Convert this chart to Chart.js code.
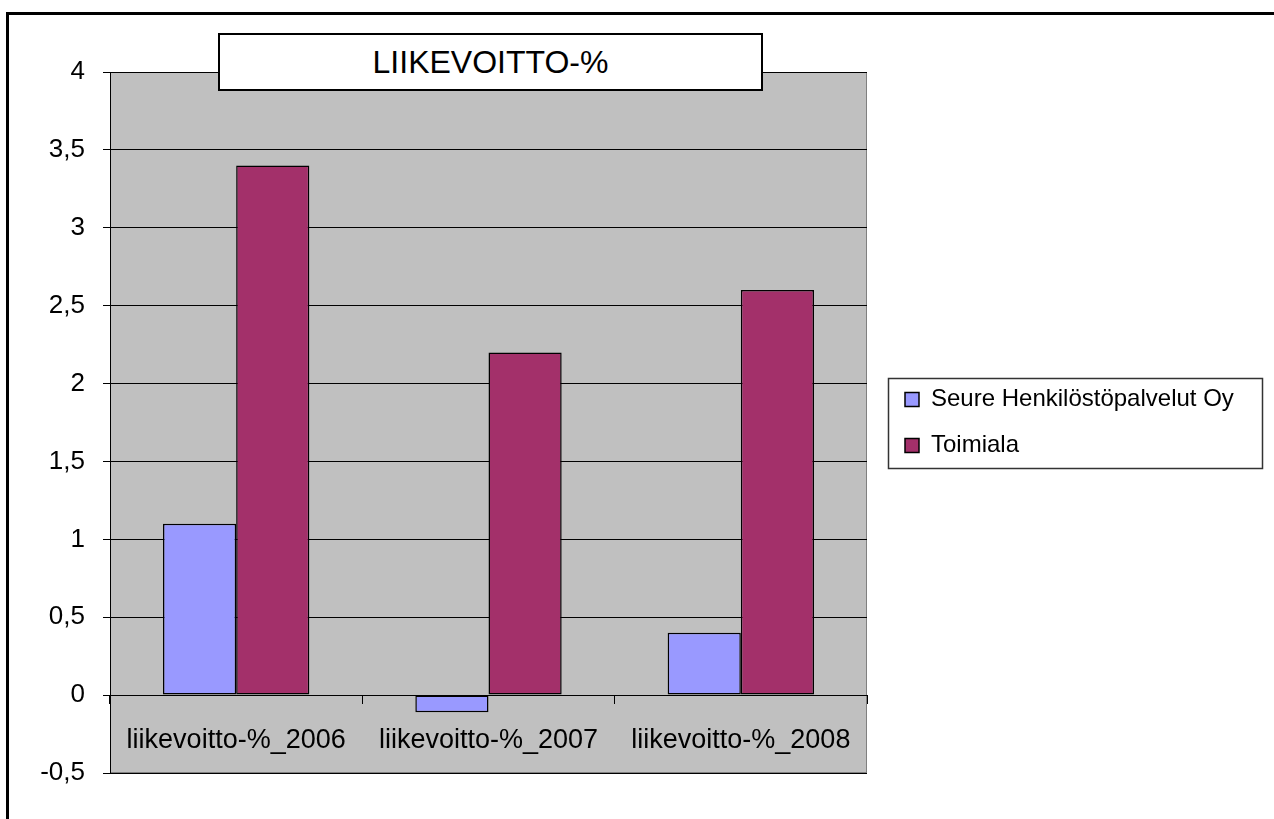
<!DOCTYPE html>
<html>
<head>
<meta charset="utf-8">
<script src="https://cdn.jsdelivr.net/npm/chart.js@4.4.1/dist/chart.umd.min.js"></script>
<style>
  html, body { margin: 0; padding: 0; background: #fff; }
  #wrap { position: relative; width: 1274px; height: 819px; overflow: hidden; }
  #c { position: absolute; left: 0; top: 0; }
  #title {
    position: absolute; left: 218px; top: 33px; width: 545px; height: 58px;
    box-sizing: border-box; border: 2px solid #000; background: #fff; color: #000;
    font: 32px 'Liberation Sans', Arial, sans-serif;
    display: flex; align-items: center; justify-content: center;
  }
</style>
</head>
<body>
<div id="wrap">
  <canvas id="c" width="1274" height="819"></canvas>
  <div id="title"></div>
</div>
<script>
// ---- data ----
const TITLE = 'LIIKEVOITTO-%';
const CATEGORIES = ['liikevoitto-%_2006', 'liikevoitto-%_2007', 'liikevoitto-%_2008'];
const SERIES_NAMES = ['Seure Henkilöstöpalvelut Oy', 'Toimiala'];
const SEURE_VALUES = [1.1, -0.11, 0.4];
const TOIMIALA_VALUES = [3.4, 2.2, 2.6];
const Y_TICK_LABELS = ['-0,5', '0', '0,5', '1', '1,5', '2', '2,5', '3', '3,5', '4'];

document.getElementById('title').textContent = TITLE;

const FONT = "'Liberation Sans', Arial, sans-serif";
const LEGEND_FONT_SIZE = 24;
const LEGEND_PAD = 22;
const LEGEND_BOX = 14;
const PLOT_RIGHT = 867;
const LEGEND_BOX_X = 905;

const framePlugin = {
  id: 'framePlugin',
  beforeDraw(chart) {
    const { ctx, chartArea: a } = chart;
    ctx.save();
    ctx.fillStyle = '#000';
    ctx.fillRect(6, 12, 1268, 3);
    ctx.fillRect(6, 12, 3, 807);
    ctx.fillStyle = '#C0C0C0';
    ctx.fillRect(a.left, a.top, a.right - a.left, a.bottom - a.top);
    ctx.strokeStyle = '#808080';
    ctx.lineWidth = 1;
    ctx.strokeRect(a.left + 0.5, a.top + 0.5, a.right - a.left - 1, a.bottom - a.top - 1);
    ctx.restore();
  },
  afterLayout(chart) {
    const lg = chart.legend;
    if (!lg) return;
    lg.left = LEGEND_BOX_X - LEGEND_PAD;
    lg.right = chart.width;
    lg.width = lg.right - lg.left;
  },
  afterDraw(chart) {
    const lg = chart.legend;
    if (!lg || !lg.legendHitBoxes || !lg.legendHitBoxes.length) return;
    const hb = lg.legendHitBoxes;
    const l = Math.min(...hb.map(h => h.left)) - 17;
    const t = Math.min(...hb.map(h => h.top)) - 10;
    const r = Math.max(...hb.map(h => h.left + h.width)) + 28;
    const b = Math.max(...hb.map(h => h.top + h.height)) + 10;
    const ctx = chart.ctx;
    ctx.save();
    ctx.strokeStyle = '#333';
    ctx.lineWidth = 1.5;
    ctx.strokeRect(Math.round(l) + 0.5, Math.round(t) + 0.5, Math.round(r - l), Math.round(b - t));
    ctx.restore();
  }
};

const chart = new Chart(document.getElementById('c'), {
  type: 'bar',
  data: {
    labels: CATEGORIES,
    datasets: [
      {
        label: SERIES_NAMES[0],
        data: SEURE_VALUES,
        backgroundColor: '#9999FF',
        borderColor: '#000',
        borderWidth: 1.5,
        borderSkipped: false
      },
      {
        label: SERIES_NAMES[1],
        data: TOIMIALA_VALUES,
        backgroundColor: '#A3306A',
        borderColor: '#000',
        borderWidth: 1.5,
        borderSkipped: false
      }
    ]
  },
  options: {
    responsive: false,
    animation: false,
    devicePixelRatio: 1,
    layout: { padding: { left: 0, top: 72, bottom: 46, right: 118 } },
    datasets: { bar: { categoryPercentage: 0.58, barPercentage: 1.0 } },
    plugins: {
      title: { display: false },
      tooltip: { enabled: false },
      legend: {
        display: true,
        position: 'right',
        align: 'center',
        labels: {
          color: '#000',
          font: { family: FONT, size: LEGEND_FONT_SIZE },
          boxWidth: LEGEND_BOX,
          boxHeight: LEGEND_BOX,
          padding: LEGEND_PAD
        }
      }
    },
    scales: {
      x: {
        type: 'category',
        position: { y: 0 },
        offset: true,
        grid: { display: true, drawOnChartArea: false, drawTicks: true, tickLength: 8, color: '#000', offset: true },
        border: { display: true, color: '#000', width: 1 },
        ticks: {
          color: '#000',
          font: { family: FONT, size: 27, lineHeight: '68px' },
          maxRotation: 0,
          autoSkip: false
        }
      },
      y: {
        min: -0.5,
        max: 4,
        afterFit(s) { s.width = 110; },
        grid: { color: '#000', lineWidth: 1, drawTicks: true, tickLength: 7 },
        border: { display: true, color: '#000', width: 1 },
        ticks: {
          stepSize: 0.5,
          padding: 18,
          color: '#000',
          font: { family: FONT, size: 26 },
          callback: (v, i) => Y_TICK_LABELS[i]
        }
      }
    }
  },
  plugins: [framePlugin]
});

// settle the right layout padding so the plot area ends at PLOT_RIGHT
for (let k = 0; k < 12; k++) {
  const diff = chart.chartArea.right - PLOT_RIGHT;
  if (Math.abs(diff) < 0.5) break;
  chart.options.layout.padding.right += diff;
  chart.update();
}
</script>
</body>
</html>
